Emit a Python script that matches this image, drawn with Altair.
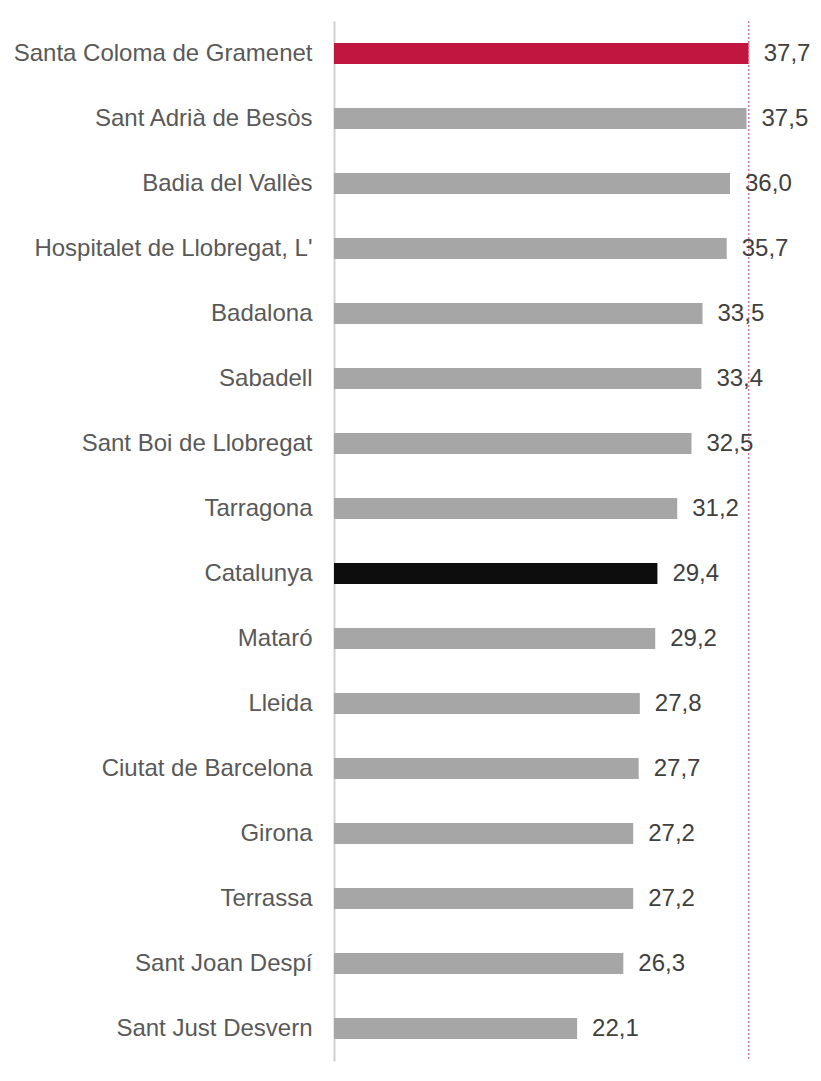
import altair as alt
import pandas as pd

municipis = [
    "Santa Coloma de Gramenet", "Sant Adrià de Besòs", "Badia del Vallès",
    "Hospitalet de Llobregat, L'", "Badalona", "Sabadell", "Sant Boi de Llobregat",
    "Tarragona", "Catalunya", "Mataró", "Lleida", "Ciutat de Barcelona",
    "Girona", "Terrassa", "Sant Joan Despí", "Sant Just Desvern",
]
valors = [37.7, 37.5, 36.0, 35.7, 33.5, 33.4, 32.5, 31.2, 29.4, 29.2, 27.8, 27.7, 27.2, 27.2, 26.3, 22.1]
tipus = ["focus", "other", "other", "other", "other", "other", "other", "other",
         "total", "other", "other", "other", "other", "other", "other", "other"]

df = pd.DataFrame({
    "municipi": municipis,
    "valor": valors,
    "tipus": tipus,
    "etiqueta": [f"{v:.1f}".replace(".", ",") for v in valors],
})

FONT = "Liberation Sans"

x_scale = alt.Scale(domain=[0, 38.18], nice=False, zero=True)
y_scale = alt.Scale(paddingInner=0.68, paddingOuter=0.34)

base = alt.Chart(df)

bars = base.mark_bar().encode(
    y=alt.Y("municipi:N", sort=None, scale=y_scale,
            axis=alt.Axis(title=None, ticks=False, domain=True, domainColor="#d0d0d0",
                          domainWidth=2, labelFont=FONT, labelFontSize=24,
                          labelColor="#595959", labelPadding=22, labelLimit=400)),
    x=alt.X("valor:Q", scale=x_scale, axis=None),
    color=alt.Color("tipus:N", scale=alt.Scale(domain=["focus", "other", "total"],
                                                range=["#C0163F", "#A6A6A6", "#0D0D0D"]),
                    legend=None),
)

labels = base.mark_text(align="left", baseline="middle", dx=15, font=FONT,
                        fontSize=24, color="#404040").encode(
    y=alt.Y("municipi:N", sort=None),
    x=alt.X("valor:Q"),
    text="etiqueta:N",
)

rule = base.transform_filter(alt.datum.tipus == "focus").mark_rule(
    color="#E37A95", strokeDash=[2, 2], strokeWidth=1.5
).encode(
    x=alt.X("valor:Q"),
)

chart = alt.layer(bars, rule, labels).properties(
    width=420, height=1040,
    padding={"left": 5, "top": 12, "right": 0, "bottom": 0},
).configure_view(stroke=None)

chart.save("out.html", embed_options={"renderer": "svg", "actions": False})
